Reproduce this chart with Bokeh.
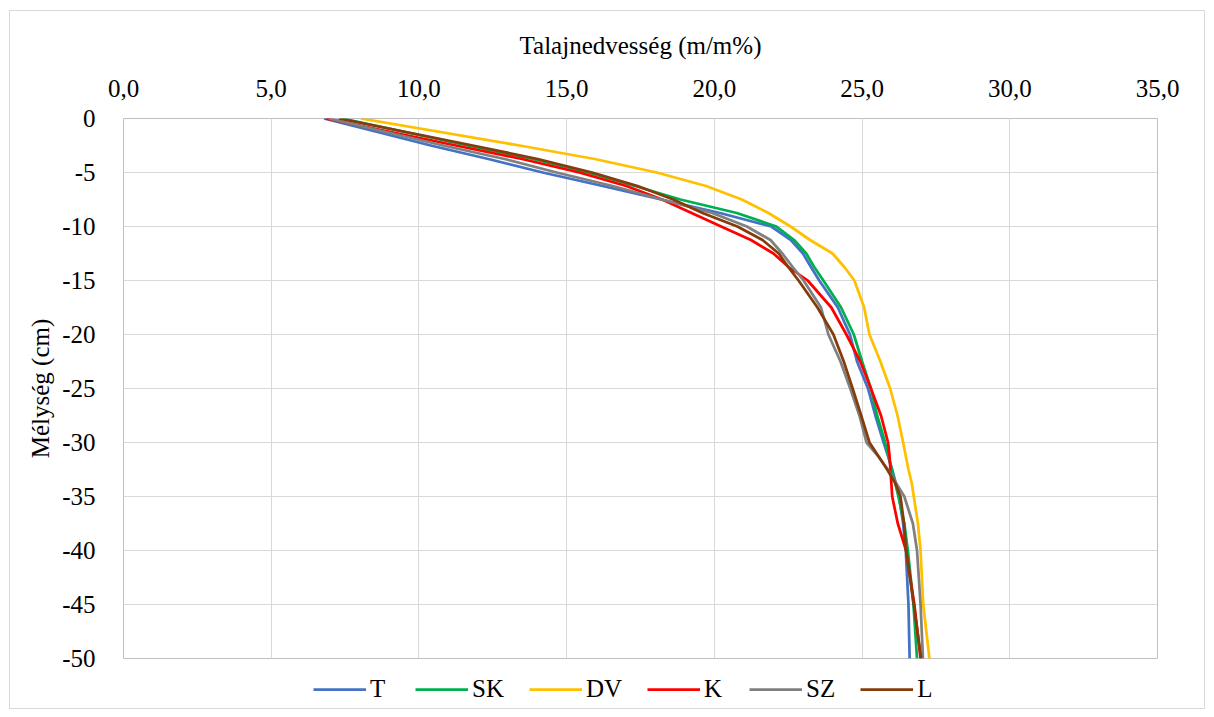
from bokeh.plotting import figure
from bokeh.layouts import column
from bokeh.models import Range1d, FixedTicker, CustomJSTickFormatter, Legend, LegendItem
from bokeh.embed import file_html
from bokeh.resources import INLINE

# Depth (cm) and soil moisture (m/m%) per series
depth = [0, -2.5, -3.75, -5, -6.25, -7.5, -8.75, -10, -11.25, -12.5, -13.75, -15,
         -17.5, -20, -22.5, -25, -27.5, -30, -31.25, -32.5, -33.75, -35, -37.5, -40,
         -45, -50]

T = [6.79, 10.4, 12.35, 14.19, 16.22, 18.2, 20.19, 21.93, 22.59, 23.0, 23.27, 23.55,
     24.18, 24.59, 24.83, 25.2, 25.45, 25.73, 25.88, 26.02, 26.14, 26.25, 26.39, 26.48,
     26.57, 26.61]
SK = [7.4, 11.65, 13.86, 15.72, 17.31, 18.85, 20.76, 22.1, 22.7, 23.11, 23.38, 23.69,
      24.29, 24.72, 25.0, 25.3, 25.51, 25.78, 25.89, 26.0, 26.12, 26.23, 26.43, 26.55,
      26.74, 26.86]
DV = [8.03, 13.41, 15.95, 18.05, 19.72, 20.93, 21.83, 22.58, 23.24, 24.0, 24.4, 24.74,
      25.07, 25.25, 25.62, 25.95, 26.2, 26.39, 26.48, 26.57, 26.68, 26.75, 26.89, 26.98,
      27.07, 27.28]
K = [6.84, 11.25, 13.49, 15.43, 17.02, 18.23, 19.23, 20.23, 21.24, 22.0, 22.51, 23.16,
     23.96, 24.47, 24.94, 25.3, 25.64, 25.88, 25.93, 25.96, 25.99, 26.02, 26.21, 26.49,
     26.77, 26.98]
SZ = [6.95, 10.82, 12.9, 14.66, 16.56, 18.22, 19.93, 21.1, 21.9, 22.3, 22.65, 23.02,
      23.61, 23.86, 24.27, 24.6, 24.91, 25.15, 25.54, 25.87, 26.15, 26.43, 26.72, 26.86,
      26.98, 27.06]
L = [7.29, 11.82, 14.02, 15.86, 17.4, 18.61, 19.6, 20.78, 21.63, 22.18, 22.5, 22.85,
     23.49, 24.03, 24.38, 24.68, 24.97, 25.25, 25.55, 25.85, 26.12, 26.3, 26.42, 26.49,
     26.75, 27.0]

series_names = ["T", "SK", "DV", "K", "SZ", "L"]
series_values = [T, SK, DV, K, SZ, L]
series_colors = ["#4472C4", "#00B050", "#FFC000", "#FF0000", "#808080", "#843C0C"]

x_ticks = [0, 5, 10, 15, 20, 25, 30, 35]
y_ticks = [0, -5, -10, -15, -20, -25, -30, -35, -40, -45, -50]

FONT = "Liberation Serif"
FS = "25px"

p = figure(frame_width=1034, frame_height=540, x_range=Range1d(0, 35), y_range=Range1d(-50, 0),
           x_axis_location="above", output_backend="svg", toolbar_location=None,
           min_border_left=113, min_border_right=47, min_border_top=107, min_border_bottom=16)

p.outline_line_color = "#bfbfbf"
p.outline_line_width = 1

for ax in (p.xaxis[0], p.yaxis[0]):
    ax.axis_line_color = None
    ax.major_tick_line_color = None
    ax.minor_tick_line_color = None
    ax.major_label_text_font = FONT
    ax.major_label_text_font_size = FS
    ax.major_label_text_color = "black"
    ax.axis_label_text_font = FONT
    ax.axis_label_text_font_size = FS
    ax.axis_label_text_font_style = "normal"
    ax.axis_label_text_color = "black"

p.xaxis.ticker = FixedTicker(ticks=x_ticks)
p.yaxis.ticker = FixedTicker(ticks=y_ticks)
p.xaxis.formatter = CustomJSTickFormatter(code="return tick.toFixed(1).replace('.', ',');")
p.yaxis.formatter = CustomJSTickFormatter(code="return tick.toFixed(0);")
p.xaxis.axis_label = "Talajnedvesség (m/m%)"
p.yaxis.axis_label = "Mélység (cm)"
p.xaxis.major_label_standoff = 16
p.yaxis.major_label_standoff = 22
p.xaxis.axis_label_standoff = 18
p.yaxis.axis_label_standoff = 5

p.xgrid.ticker = FixedTicker(ticks=x_ticks)
p.ygrid.ticker = FixedTicker(ticks=y_ticks)
p.xgrid.grid_line_color = "#d9d9d9"
p.ygrid.grid_line_color = "#d9d9d9"

for vals, col in zip(series_values, series_colors):
    p.line(vals, depth, line_color=col, line_width=2.75, line_join="round")

# Legend strip below the chart; its lines use the same series, outside its visible range
lf = figure(width=1194, height=34, x_axis_location=None, y_axis_location=None,
            output_backend="svg", toolbar_location=None,
            min_border_left=113, min_border_right=47, min_border_top=0, min_border_bottom=0,
            x_range=Range1d(0, 35), y_range=Range1d(100, 101))
lf.outline_line_color = None
lf.xgrid.visible = False
lf.ygrid.visible = False
items = []
for name, vals, col in zip(series_names, series_values, series_colors):
    r = lf.line(vals, depth, line_color=col, line_width=2.75)
    items.append(LegendItem(label=name, renderers=[r]))
legend = Legend(items=items, orientation="horizontal", location=(190, 5),
                glyph_width=53, glyph_height=20, label_standoff=4, spacing=25,
                padding=0, margin=0, border_line_color=None, background_fill_alpha=0,
                label_text_font=FONT, label_text_font_size=FS, label_text_color="black")
lf.add_layout(legend, "center")

layout = column(p, lf, spacing=0,
                styles={"border": "1px solid #d9d9d9", "margin-left": "9px", "margin-top": "10px"})

open("out.html", "w").write(file_html(layout, INLINE))
